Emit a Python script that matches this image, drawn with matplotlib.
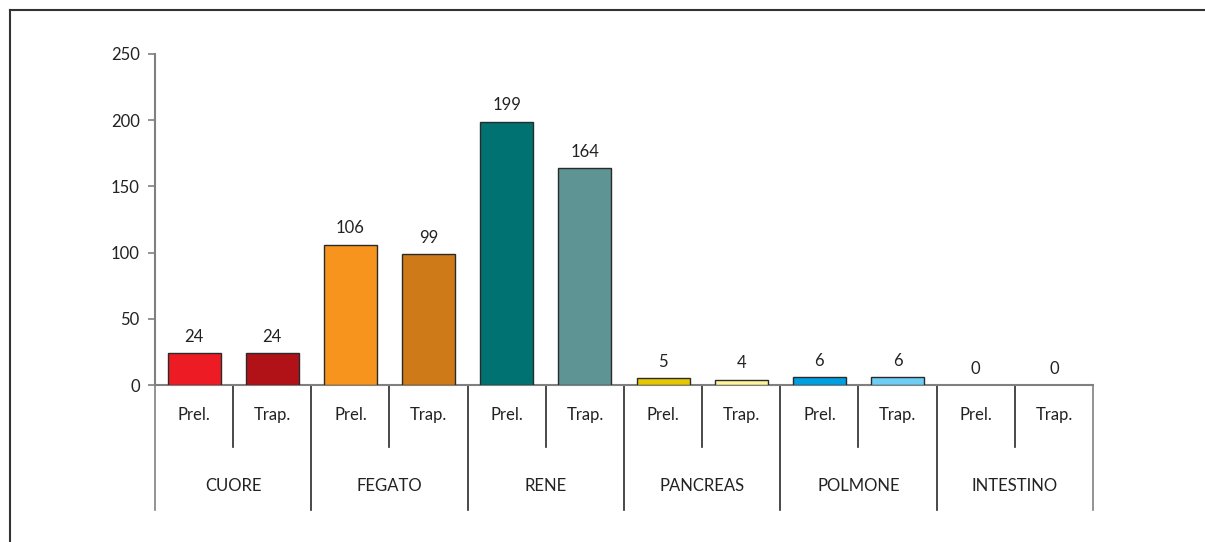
import matplotlib
matplotlib.use("Agg")
import matplotlib.pyplot as plt
from matplotlib.lines import Line2D

organs = ["CUORE", "FEGATO", "RENE", "PANCREAS", "POLMONE", "INTESTINO"]
sub_labels = ["Prel.", "Trap."]
prelievi = [24, 106, 199, 5, 6, 0]
trapianti = [24, 99, 164, 4, 6, 0]
prel_colors = ["#ED1C24", "#F7941D", "#007272", "#E6C700", "#00A0E0", "#FFFFFF"]
trap_colors = ["#B01218", "#CE7A18", "#5E9494", "#FFF59A", "#6DCDF4", "#FFFFFF"]

plt.rcParams["font.family"] = ["Lato", "DejaVu Sans"]
FS = 12

W, H = 1205, 542
fig = plt.figure(figsize=(W / 100, H / 100), dpi=100)
x0, x1, y_top, y_bot = 155, 1093, 54, 385
ax = fig.add_axes([x0 / W, 1 - y_bot / H, (x1 - x0) / W, (y_bot - y_top) / H])

values, colors = [], []
for p, t, cp, ct in zip(prelievi, trapianti, prel_colors, trap_colors):
    values += [p, t]
    colors += [cp, ct]

n = len(values)
xs = [i + 0.5 for i in range(n)]
edge_w = [1.0 if v > 0 else 0.0 for v in values]
ax.bar(xs, values, width=0.68, color=colors, edgecolor="#2a2a2a", linewidth=edge_w, zorder=3)
for x, v in zip(xs, values):
    ax.annotate(f"{v}", (x, v), xytext=(0, 6), textcoords="offset points",
                ha="center", va="bottom", fontsize=FS, color="#222222")

ax.set_xlim(0, n)
ax.set_ylim(0, 250)
ax.set_yticks(range(0, 251, 50))
ax.tick_params(axis="y", length=5, width=1.2, color="#808080", labelsize=FS,
               labelcolor="#222222", pad=6)
ax.set_xticks([])
for s in ["top", "right"]:
    ax.spines[s].set_visible(False)
for s in ["left", "bottom"]:
    ax.spines[s].set_color("#808080")
    ax.spines[s].set_linewidth(1.5)

# category table below the axis (in data units: 1 unit = 331/250 px)
ppu = (y_bot - y_top) / 250.0
def py(px):
    return -(px - y_bot) / ppu

lc = "#2a2a2a"
for g in range(len(organs) + 1):
    ax.plot([2 * g, 2 * g], [0, py(510)], color=lc if 0 < g < len(organs) else "#808080",
            lw=1.2, clip_on=False)
for g in range(len(organs)):
    ax.plot([2 * g + 1, 2 * g + 1], [0, py(447)], color=lc, lw=1.2, clip_on=False)
    for k, lab in enumerate(sub_labels):
        ax.text(2 * g + k + 0.5, py(415), lab, ha="center", va="center", fontsize=FS,
                color="#222222", clip_on=False)
    ax.text(2 * g + 1, py(486), organs[g], ha="center", va="center", fontsize=FS,
            color="#222222", clip_on=False)

# outer frame lines
fig.add_artist(Line2D([9.5 / W, 9.5 / W], [0, 1 - 9.5 / H], transform=fig.transFigure,
                      color="#333333", lw=1.5))
fig.add_artist(Line2D([9.5 / W, 1], [1 - 9.5 / H, 1 - 9.5 / H], transform=fig.transFigure,
                      color="#333333", lw=1.5))

fig.savefig("out.png", dpi=100, facecolor="white")
